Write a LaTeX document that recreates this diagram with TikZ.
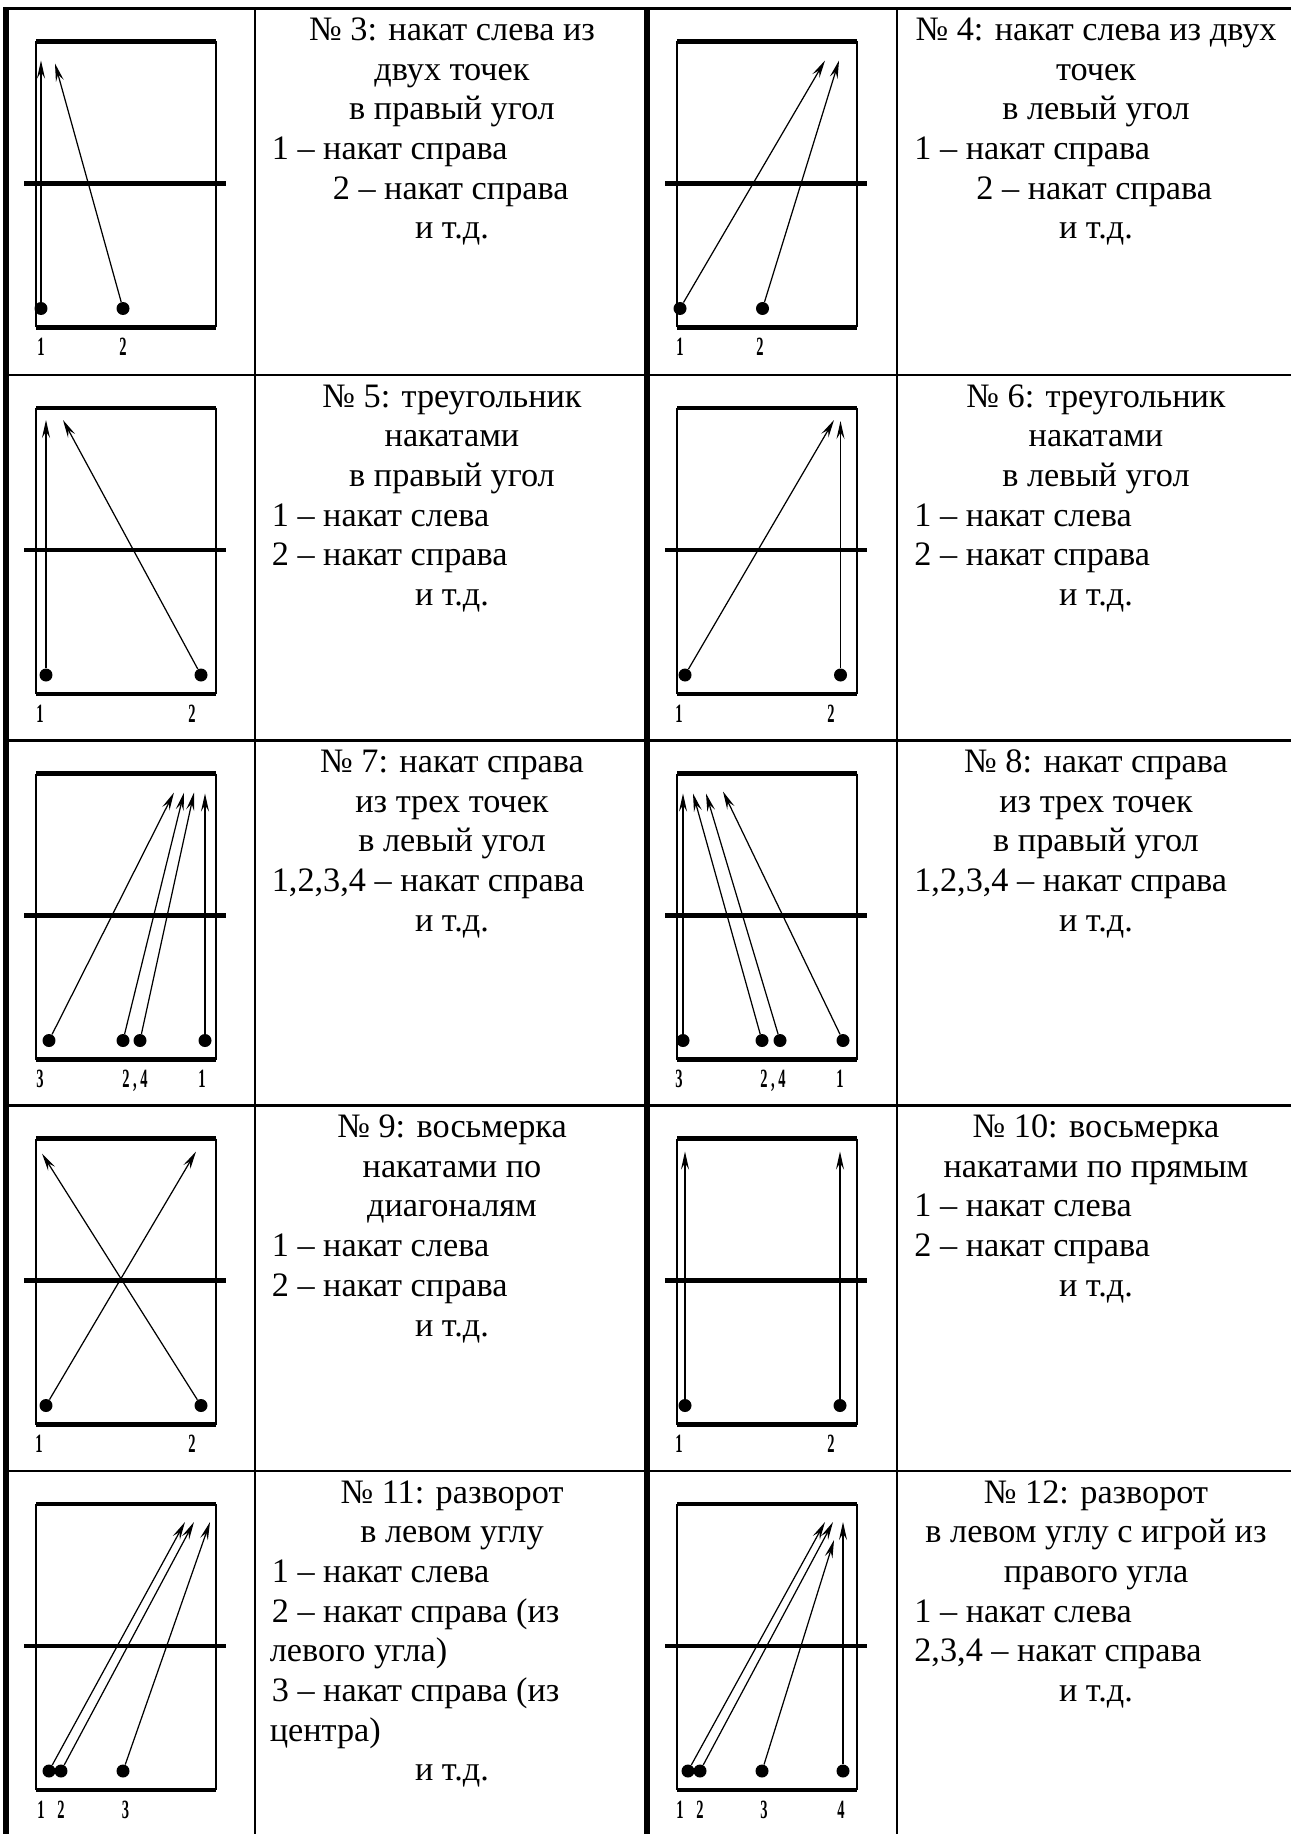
\documentclass[tikz,border=0pt]{standalone}
\usepackage{fontspec}
\setmainfont{Liberation Serif}
\usetikzlibrary{arrows.meta,positioning}
\tikzset{
  ar/.style={-{Stealth[length=3.6mm,width=1.6mm,inset=1.3mm]},line width=0.7pt},
  dt/.style={circle,fill,inner sep=0pt,minimum size=2.6mm},
  nr/.style={font=\bfseries\fontsize{15}{15}\selectfont,inner sep=0pt,anchor=base},
  tc/.style={font=\fontsize{19.5}{22}\selectfont,inner sep=0pt,anchor=base},
  tl/.style={tc,anchor=base west},
  tline/.style={line width=1.4pt},
  tbold/.style={line width=3.2pt},
  cside/.style={line width=1.1pt},
  cline/.style={line width=2.8pt}
}
\newcommand{\nb}[1]{\scalebox{0.55}[1]{#1}}
\newcommand{\courtbox}{%
  \draw[cside] (30,33) -- (30,319) (210,33) -- (210,319);
  \draw[cline] (30,33) -- (210,33) (30,319) -- (210,319) (18,175) -- (220,175);}

\begin{document}
\begin{tikzpicture}[x=0.02cm,y=-0.02cm]
\useasboundingbox (0,0) rectangle (1291,1834);
% table
\foreach \y in {8.5,375,740.5,1105.5,1471} \draw[tline] (4,\y) -- (1291,\y);
\draw[tbold] (6,7.5) -- (6,1834) (647,7.5) -- (647,1834);
\draw[tline] (255,8.5) -- (255,1834) (897,8.5) -- (897,1834);

% No 3
\begin{scope}[shift={(6,8.5)}]
\courtbox
\node[dt] (d3a) at (35,300) {}; \node[dt] (d3b) at (117,300) {};
\coordinate (e3a) at (35,52); \coordinate (e3b) at (49,55);
\draw[ar] (d3a) -- (e3a); \draw[ar] (d3b) -- (e3b);
\node[nr] (l3a) at (35,347) {\nb{1}}; \node[nr] (l3b) at (117,347) {\nb{2}};
\node[tc] (t3a) at (446,32) {№ 3: накат слева из};
\node[tc] (t3b) at (446,71.7) {двух точек};
\node[tc] (t3c) at (446,111.4) {в правый угол};
\node[tl] (t3d) at (265.5,151.1) {1 – накат справа};
\node[tl] (t3e) at (326.5,190.8) {2 – накат справа};
\node[tc] (t3f) at (446,230.5) {и т.д.};
\end{scope}

% No 4
\begin{scope}[shift={(647,8.5)}]
\courtbox
\node[dt] (d4a) at (33,300) {}; \node[dt] (d4b) at (115.5,300) {};
\coordinate (e4a) at (178,52); \coordinate (e4b) at (192,52);
\draw[ar] (d4a) -- (e4a); \draw[ar] (d4b) -- (e4b);
\node[nr] (l4a) at (33,347) {\nb{1}}; \node[nr] (l4b) at (113,347) {\nb{2}};
\node[tc] (t4a) at (449,32) {№ 4: накат слева из двух};
\node[tc] (t4b) at (449,71.7) {точек};
\node[tc] (t4c) at (449,111.4) {в левый угол};
\node[tl] (t4d) at (267,151.1) {1 – накат справа};
\node[tl] (t4e) at (329,190.8) {2 – накат справа};
\node[tc] (t4f) at (449,230.5) {и т.д.};
\end{scope}

% No 5
\begin{scope}[shift={(6,375)}]
\courtbox
\node[dt] (d5a) at (40,300) {}; \node[dt] (d5b) at (195,300) {};
\coordinate (e5a) at (40,45); \coordinate (e5b) at (57,45);
\draw[ar] (d5a) -- (e5a); \draw[ar] (d5b) -- (e5b);
\node[nr] (l5a) at (34,347) {\nb{1}}; \node[nr] (l5b) at (186,347) {\nb{2}};
\node[tc] (t5a) at (446,32) {№ 5: треугольник};
\node[tc] (t5b) at (446,71.7) {накатами};
\node[tc] (t5c) at (446,111.4) {в правый угол};
\node[tl] (t5d) at (265.5,151.1) {1 – накат слева};
\node[tl] (t5e) at (265.5,190.8) {2 – накат справа};
\node[tc] (t5f) at (446,230.5) {и т.д.};
\end{scope}

% No 6
\begin{scope}[shift={(647,375)}]
\courtbox
\node[dt] (d6a) at (38,300) {}; \node[dt] (d6b) at (193.5,300) {};
\coordinate (e6a) at (187,45); \coordinate (e6b) at (193.5,46);
\draw[ar] (d6a) -- (e6a); \draw[ar] (d6b) -- (e6b);
\node[nr] (l6a) at (32,347) {\nb{1}}; \node[nr] (l6b) at (184,347) {\nb{2}};
\node[tc] (t6a) at (449,32) {№ 6: треугольник};
\node[tc] (t6b) at (449,71.7) {накатами};
\node[tc] (t6c) at (449,111.4) {в левый угол};
\node[tl] (t6d) at (267,151.1) {1 – накат слева};
\node[tl] (t6e) at (267,190.8) {2 – накат справа};
\node[tc] (t6f) at (449,230.5) {и т.д.};
\end{scope}

% No 7
\begin{scope}[shift={(6,740.5)}]
\courtbox
\node[dt] (d7a) at (43,300) {}; \node[dt] (d7b) at (117,300) {};
\node[dt] (d7c) at (134,300) {}; \node[dt] (d7d) at (199,300) {};
\coordinate (e7a) at (168,52); \coordinate (e7b) at (178,52);
\coordinate (e7c) at (188,52); \coordinate (e7d) at (199,53);
\draw[ar] (d7a) -- (e7a); \draw[ar] (d7b) -- (e7b);
\draw[ar] (d7c) -- (e7c); \draw[ar] (d7d) -- (e7d);
\node[nr] (l7a) at (34,347) {\nb{3}}; \node[nr] (l7b) at (129,347) {\nb{2 , 4}};
\node[nr] (l7c) at (196,347) {\nb{1}};
\node[tc] (t7a) at (446,32) {№ 7: накат справа};
\node[tc] (t7b) at (446,71.7) {из трех точек};
\node[tc] (t7c) at (446,111.4) {в левый угол};
\node[tl] (t7d) at (265.5,151.1) {1,2,3,4 – накат справа};
\node[tc] (t7e) at (446,190.8) {и т.д.};
\end{scope}

% No 8
\begin{scope}[shift={(647,740.5)}]
\courtbox
\node[dt] (d8a) at (36,300) {}; \node[dt] (d8b) at (115,300) {};
\node[dt] (d8c) at (133,300) {}; \node[dt] (d8d) at (196,300) {};
\coordinate (e8a) at (36,53); \coordinate (e8b) at (46,53);
\coordinate (e8c) at (59,53); \coordinate (e8d) at (76,51);
\draw[ar] (d8a) -- (e8a); \draw[ar] (d8b) -- (e8b);
\draw[ar] (d8c) -- (e8c); \draw[ar] (d8d) -- (e8d);
\node[nr] (l8a) at (32,347) {\nb{3}}; \node[nr] (l8b) at (126,347) {\nb{2 , 4}};
\node[nr] (l8c) at (193,347) {\nb{1}};
\node[tc] (t8a) at (449,32) {№ 8: накат справа};
\node[tc] (t8b) at (449,71.7) {из трех точек};
\node[tc] (t8c) at (449,111.4) {в правый угол};
\node[tl] (t8d) at (267,151.1) {1,2,3,4 – накат справа};
\node[tc] (t8e) at (449,190.8) {и т.д.};
\end{scope}

% No 9
\begin{scope}[shift={(6,1105.5)}]
\courtbox
\node[dt] (d9a) at (40,300) {}; \node[dt] (d9b) at (195,300) {};
\coordinate (e9a) at (190,46); \coordinate (e9b) at (36,48);
\draw[ar] (d9a) -- (e9a); \draw[ar] (d9b) -- (e9b);
\node[nr] (l9a) at (33,347) {\nb{1}}; \node[nr] (l9b) at (186,347) {\nb{2}};
\node[tc] (t9a) at (446,32) {№ 9: восьмерка};
\node[tc] (t9b) at (446,71.7) {накатами по};
\node[tc] (t9c) at (446,111.4) {диагоналям};
\node[tl] (t9d) at (265.5,151.1) {1 – накат слева};
\node[tl] (t9e) at (265.5,190.8) {2 – накат справа};
\node[tc] (t9f) at (446,230.5) {и т.д.};
\end{scope}

% No 10
\begin{scope}[shift={(647,1105.5)}]
\courtbox
\node[dt] (d10a) at (38,300) {}; \node[dt] (d10b) at (193,300) {};
\coordinate (e10a) at (38,46); \coordinate (e10b) at (193,46);
\draw[ar] (d10a) -- (e10a); \draw[ar] (d10b) -- (e10b);
\node[nr] (l10a) at (32,347) {\nb{1}}; \node[nr] (l10b) at (184,347) {\nb{2}};
\node[tc] (t10a) at (449,32) {№ 10: восьмерка};
\node[tc] (t10b) at (449,71.7) {накатами по прямым};
\node[tl] (t10c) at (267,111.4) {1 – накат слева};
\node[tl] (t10d) at (267,151.1) {2 – накат справа};
\node[tc] (t10e) at (449,190.8) {и т.д.};
\end{scope}

% No 11
\begin{scope}[shift={(6,1471)}]
\courtbox
\node[dt] (d11a) at (43,300) {}; \node[dt] (d11b) at (55,300) {};
\node[dt] (d11c) at (117,300) {};
\coordinate (e11a) at (179,51); \coordinate (e11b) at (188,51);
\coordinate (e11c) at (204,51);
\draw[ar] (d11a) -- (e11a); \draw[ar] (d11b) -- (e11b); \draw[ar] (d11c) -- (e11c);
\node[nr] (l11a) at (35,347) {\nb{1}}; \node[nr] (l11b) at (55,347) {\nb{2}};
\node[nr] (l11c) at (119.5,347) {\nb{3}};
\node[tc] (t11a) at (446,32) {№ 11: разворот};
\node[tc] (t11b) at (446,71.7) {в левом углу};
\node[tl] (t11c) at (265.5,111.4) {1 – накат слева};
\node[tl] (t11d) at (265.5,151.1) {2 – накат справа (из};
\node[tl] (t11e) at (263.5,190.8) {левого угла)};
\node[tl] (t11f) at (265.5,230.5) {3 – накат справа (из};
\node[tl] (t11g) at (263.5,270.2) {центра)};
\node[tc] (t11h) at (446,309.9) {и т.д.};
\end{scope}

% No 12
\begin{scope}[shift={(647,1471)}]
\courtbox
\node[dt] (d12a) at (41,300) {}; \node[dt] (d12b) at (53,300) {};
\node[dt] (d12c) at (115,300) {}; \node[dt] (d12d) at (196,300) {};
\coordinate (e12a) at (178,51); \coordinate (e12b) at (186,51);
\coordinate (e12c) at (187,69); \coordinate (e12d) at (196,51);
\draw[ar] (d12a) -- (e12a); \draw[ar] (d12b) -- (e12b);
\draw[ar] (d12c) -- (e12c); \draw[ar] (d12d) -- (e12d);
\node[nr] (l12a) at (33,347) {\nb{1}}; \node[nr] (l12b) at (53,347) {\nb{2}};
\node[nr] (l12c) at (117,347) {\nb{3}}; \node[nr] (l12d) at (194,347) {\nb{4}};
\node[tc] (t12a) at (449,32) {№ 12: разворот};
\node[tc] (t12b) at (449,71.7) {в левом углу с игрой из};
\node[tc] (t12c) at (449,111.4) {правого угла};
\node[tl] (t12d) at (267,151.1) {1 – накат слева};
\node[tl] (t12e) at (267,190.8) {2,3,4 – накат справа};
\node[tc] (t12f) at (449,230.5) {и т.д.};
\end{scope}
\end{tikzpicture}
\end{document}
